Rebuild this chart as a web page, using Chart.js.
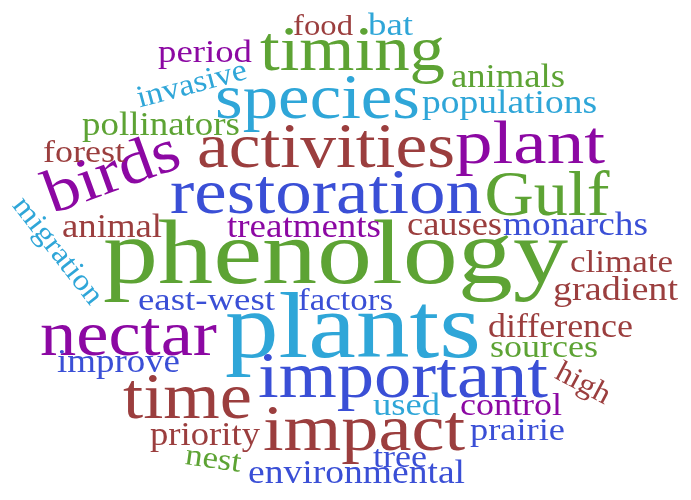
<!DOCTYPE html>
<html>
<head>
<meta charset="utf-8">
<script src="https://cdn.jsdelivr.net/npm/chart.js@4"></script>
<style>
  html, body { margin: 0; padding: 0; background: #fff; }
  #wrap { width: 691px; height: 500px; }
</style>
</head>
<body>
<div id="wrap"><canvas id="cloud"></canvas></div>
<script>
// word cloud values (x = word centre, y = baseline, in px units of the axes)
const words  = ["phenology","plants","restoration","Gulf","activities","plant","species","timing","birds","migration",
                "invasive","high","nest","food","bat","period","animals","populations","pollinators","forest",
                "animal","treatments","causes","monarchs","climate","gradient","east-west","factors","difference","nectar",
                "sources","improve","important","time","used","control","priority","impact","prairie","tree","environmental"];
const xs     = [335.5,353,326,547,326,530,317.5,352.5,118,51,
                194,579,212,323,390.5,205,508,509.5,161,84,
                112,304,454.5,575.5,621.5,615.5,206.5,345.5,560.5,128.5,
                544,118.5,403,187.5,406.5,511,205,364,517.5,400,356.5];
const ys     = [283,357,213,215,167,163,118,70,190,256,
                93,391,468,35,35,62,87,113,135,162,
                237,237,235,235,272,300,310,310,337,355,
                357,372,397,418,415,415,445,450,440,467,483];
const sizes  = [92,94,64,64,64,62,64,63,62,30,
                31,30,31,30,31,32,33,33,33,32,
                33,33,33,33,32,33,32,32,33,64,
                32,33,65,65,31,32,33,66,32,32,33];
const widths = [465,256,312,125,258,150,205,185,140,128,
                113,58,56,60,45,94,114,175,158,82,
                100,154,95,145,103,125,137,95,145,177,
                108,123,290,129,67,102,110,202,95,54,217];
const angles = [0,0,0,0,0,0,0,0,-20,52,
                -15,28,8,0,0,0,0,0,0,0,
                0,0,0,0,0,0,0,0,0,0,
                0,0,0,0,0,0,0,0,0,0,0];
const colors = ["#5da334","#2fa6d8","#3a4fd6","#5da334","#9b3e3e","#8c08a3","#2fa6d8","#5da334","#8c08a3","#2fa6d8",
                "#2fa6d8","#9b3e3e","#5da334","#9b3e3e","#2fa6d8","#8c08a3","#5da334","#2fa6d8","#5da334","#9b3e3e",
                "#9b3e3e","#8c08a3","#9b3e3e","#3a4fd6","#9b3e3e","#9b3e3e","#3a4fd6","#3a4fd6","#9b3e3e","#8c08a3",
                "#5da334","#3a4fd6","#3a4fd6","#9b3e3e","#2fa6d8","#8c08a3","#9b3e3e","#9b3e3e","#3a4fd6","#3a4fd6","#3a4fd6"];

const fontFamily = '"Liberation Serif", serif';

// draws each word at its point, stretched to the width it has in the picture
const wordPlugin = {
  id: 'words',
  afterDatasetsDraw(chart) {
    const ctx = chart.ctx;
    const xScale = chart.scales.x;
    const meta = chart.getDatasetMeta(0);
    meta.data.forEach((pt, i) => {
      const w = xScale.getPixelForValue(xs[i] + widths[i] / 2) - xScale.getPixelForValue(xs[i] - widths[i] / 2);
      ctx.save();
      ctx.font = sizes[i] + 'px ' + fontFamily;
      ctx.fillStyle = colors[i];
      ctx.textAlign = 'center';
      ctx.textBaseline = 'alphabetic';
      ctx.translate(pt.x, pt.y);
      ctx.rotate(angles[i] * Math.PI / 180);
      const m = ctx.measureText(words[i]).width;
      ctx.scale(w / m, 1);
      ctx.fillText(words[i], 0, 0);
      ctx.restore();
    });
  }
};

new Chart(document.getElementById('cloud'), {
  type: 'scatter',
  data: {
    labels: words,
    datasets: [{
      data: words.map((w, i) => ({ x: xs[i], y: ys[i] })),
      pointRadius: 0,
      pointHoverRadius: 0
    }]
  },
  options: {
    responsive: true,
    maintainAspectRatio: false,
    animation: false,
    layout: { padding: 0 },
    plugins: { legend: { display: false }, tooltip: { enabled: false } },
    scales: {
      x: { type: 'linear', min: 0, max: 691, display: false },
      y: { type: 'linear', min: 0, max: 500, reverse: true, display: false }
    }
  },
  plugins: [wordPlugin]
});
</script>
</body>
</html>
